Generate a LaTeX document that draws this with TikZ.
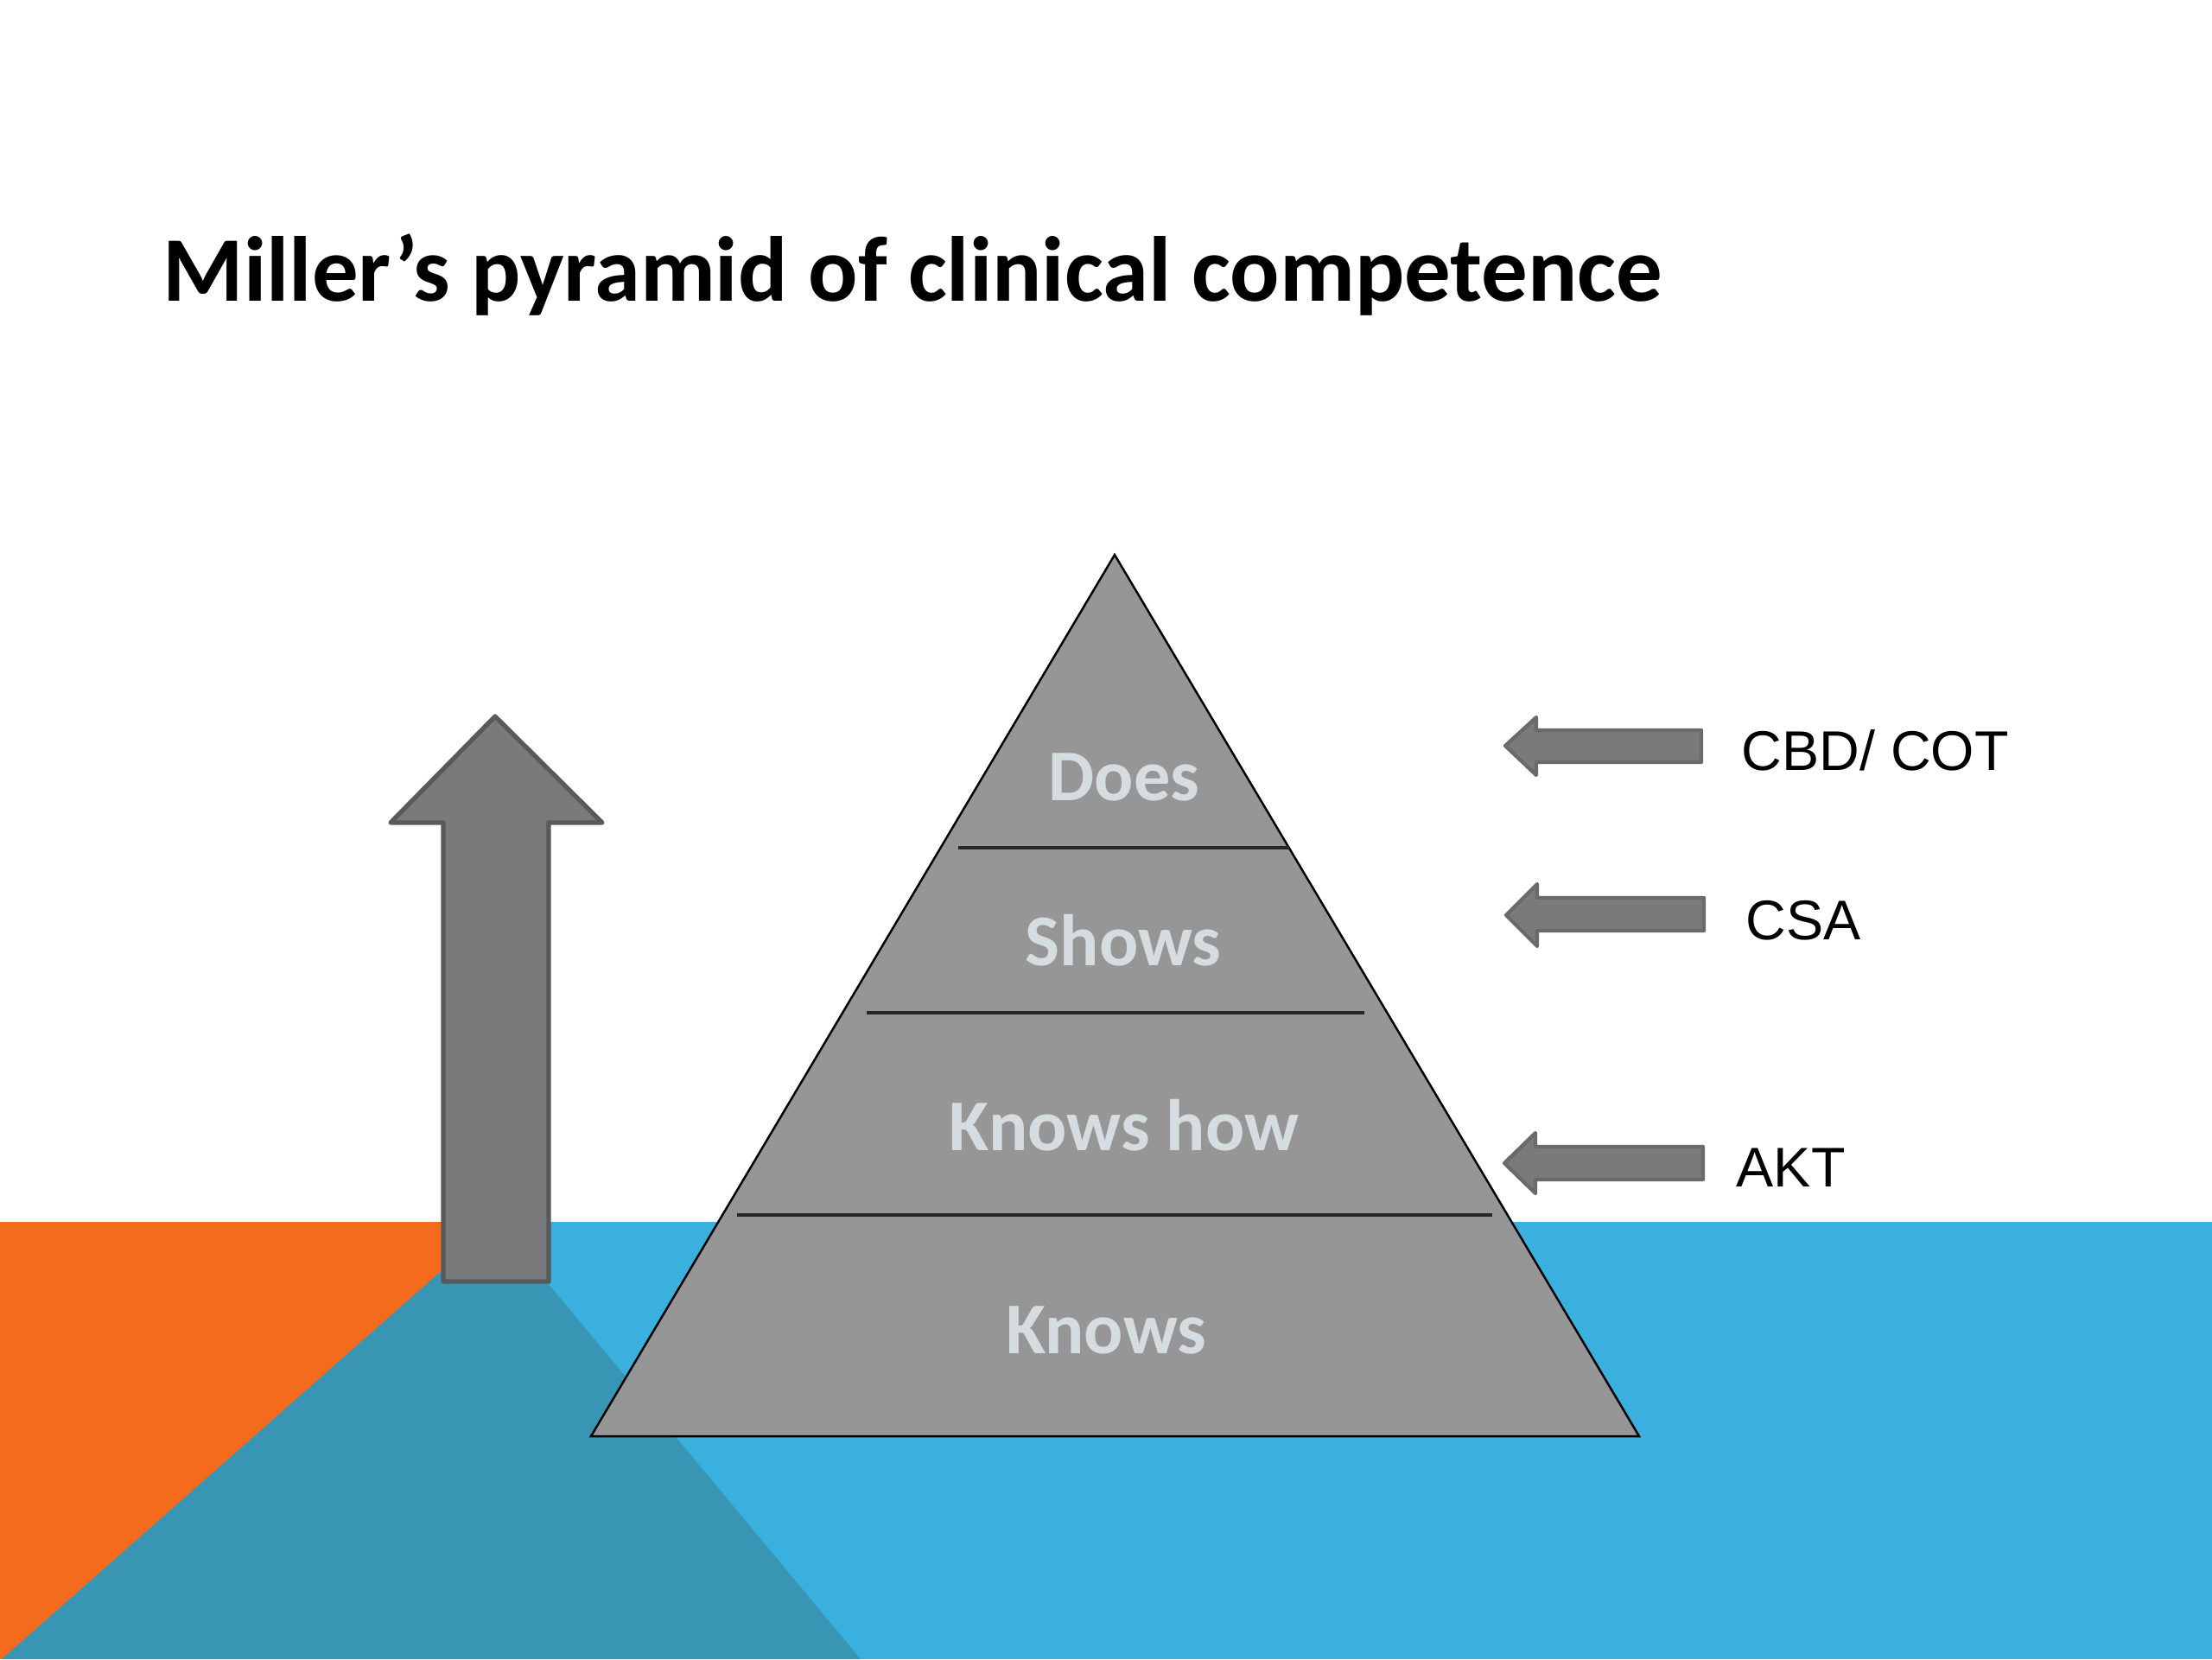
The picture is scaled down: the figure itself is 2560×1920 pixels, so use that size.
\documentclass[tikz,border=0pt]{standalone}
\usepackage{fontspec}
\setmainfont{Carlito}
\newfontfamily\arialf{Liberation Sans}
\definecolor{orng}{RGB}{245,107,30}
\definecolor{skyb}{RGB}{57,176,222}
\definecolor{tealb}{RGB}{56,149,180}
\definecolor{arrfill}{RGB}{121,122,124}
\definecolor{arrline}{RGB}{88,89,91}
\definecolor{pyrfill}{RGB}{150,150,150}
\definecolor{lbl}{RGB}{214,221,224}
\tikzset{
  bigarrow/.style={fill=arrfill,draw=arrline,line width=1.5pt,line join=round},
  smallarrow/.style={fill=arrfill,draw=arrline!90!white,line width=1.2pt,line join=round},
  divider/.style={draw=black!85,line width=0.9pt},
  levellabel/.style={anchor=base,text=lbl,font=\fontsize{24}{28}\selectfont\bfseries,inner sep=0pt},
  sidelabel/.style={anchor=base west,text=black,font=\arialf\fontsize{18.4}{22}\selectfont,inner sep=0pt},
}
\begin{document}
\begin{tikzpicture}[x=0.01cm,y=-0.01cm]
\useasboundingbox (0,0) rectangle (2560,1920);
\fill[white] (0,0) rectangle (2560,1920);
% background bands
\fill[orng] (0,1414) rectangle (576,1920);
\fill[skyb] (574,1414) rectangle (2560,1920);
\fill[tealb] (575,1414) -- (996,1920) -- (2,1920) -- cycle;
% title
\node[anchor=base west,inner sep=0pt,font=\fontsize{30.4}{36}\selectfont\bfseries] (title) at (188,348) {Miller’s pyramid of clinical competence};
% big up arrow
\draw[bigarrow] (573,829) -- (697,952) -- (635,952) -- (635,1483) -- (513,1483) -- (513,952) -- (452,952) -- cycle;
% pyramid
\draw[fill=pyrfill,draw=black,line width=0.7pt,line join=miter] (1290,642) -- (1897,1662) -- (684,1662) -- cycle;
\draw[divider] (1109,981) -- (1492,981);
\draw[divider] (1003,1172) -- (1579,1172);
\draw[divider] (853,1406) -- (1727,1406);
\node[levellabel] (does) at (1301,926) {Does};
\node[levellabel] (shows) at (1300,1117) {Shows};
\node[levellabel] (knowshow) at (1301,1331) {Knows how};
\node[levellabel] (knows) at (1280,1566) {Knows};
% side arrows
\draw[smallarrow] (1742,863) -- (1778,830) -- (1778,845) -- (1969,845) -- (1969,882) -- (1778,882) -- (1778,897) -- cycle;
\draw[smallarrow] (1743,1059) -- (1779,1023) -- (1779,1039) -- (1972,1039) -- (1972,1077) -- (1779,1077) -- (1779,1095) -- cycle;
\draw[smallarrow] (1741,1346) -- (1777,1311) -- (1777,1327) -- (1971,1327) -- (1971,1365) -- (1777,1365) -- (1777,1381) -- cycle;
\node[sidelabel] (cbd) at (2015,891) {CBD/ COT};
\node[sidelabel] (csa) at (2020,1087) {CSA};
\node[sidelabel] (akt) at (2009,1373) {AKT};
\end{tikzpicture}
\end{document}
